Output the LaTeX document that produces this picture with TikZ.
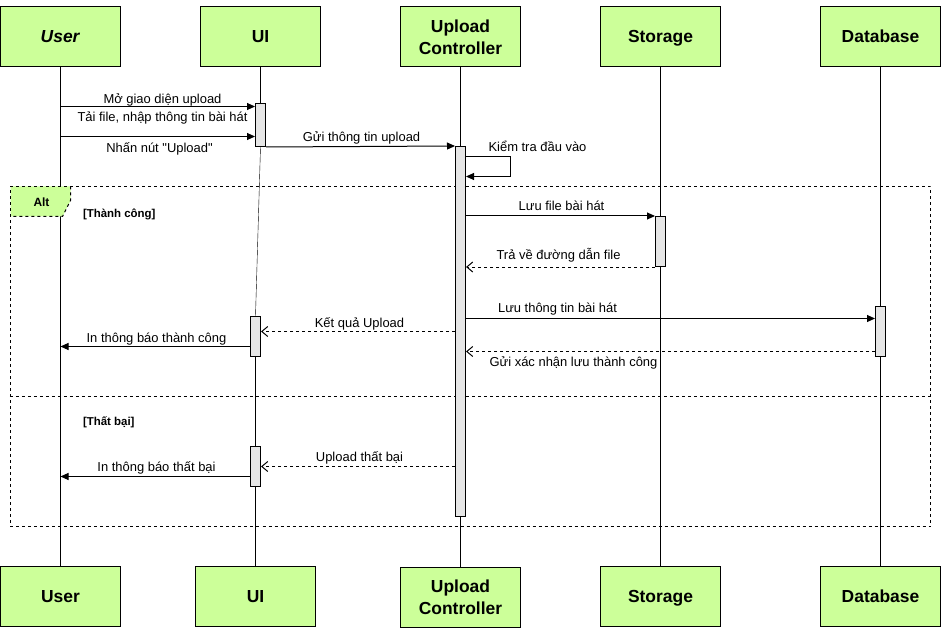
\documentclass[tikz,border=0pt]{standalone}
\usepackage{fontspec}
\setmainfont{Liberation Sans}[Ligatures=TeXOff]
\usetikzlibrary{arrows.meta, backgrounds, positioning}
\definecolor{headgreen}{HTML}{CCFF99}
\definecolor{bargray}{HTML}{E6E6E6}
\tikzset{
    actor/.style={draw, fill=headgreen, minimum width=120bp, minimum height=60bp, inner sep=0pt, align=center, font=\fontsize{17.5}{22}\selectfont\bfseries},
    oneline/.style={text height=12.6bp, text depth=0pt},
    bar/.style={draw, fill=bargray, minimum width=10bp, inner sep=0pt},
    msglabel/.style={font=\fontsize{13}{15}\selectfont, inner sep=0pt, anchor=base},
    guard/.style={font=\fontsize{11.5}{13}\selectfont\bfseries, inner sep=0pt, anchor=base west}
}

\begin{document}
\begin{tikzpicture}[x=1bp, y=-1bp, line width=1bp]
\tikzset{
    msg/.style={-{Triangle[length=8bp,width=7bp]}},
    reply/.style={dash pattern=on 3bp off 3bp, -{Straight Barb[length=6bp,width=10bp]}},
    frame/.style={draw, dash pattern=on 3bp off 3bp, inner sep=0pt}
}
  \useasboundingbox (-0.5,-0.5) rectangle (941.5,633.5);
  % heads
  \node[actor, oneline] (userTop) at (60,36) {\textit{User}};
  \node[actor, oneline] (uiTop) at (260,36) {UI};
  \node[actor] (ctrlTop) at (460,36.5) {Upload\\Controller};
  \node[actor, oneline] (stoTop) at (660,36) {Storage};
  \node[actor, oneline] (dbTop) at (880,36) {Database};
  \node[actor, oneline] (userBot) at (60,596) {User};
  \node[actor, oneline] (uiBot) at (255,596) {UI};
  \node[actor] (ctrlBot) at (460,596.5) {Upload\\Controller};
  \node[actor, oneline] (stoBot) at (660,596) {Storage};
  \node[actor, oneline] (dbBot) at (880,596) {Database};
  % alt frame
  \fill[headgreen] (10,186) -- (70,186) -- (70,200) -- (62,216) -- (10,216) -- cycle;
  \node[frame, minimum width=920bp, minimum height=340bp] (altFrame) at (470,356) {};
  \draw[dash pattern=on 3bp off 3bp] (70,186) -- (70,200) -- (62,216) -- (10,216);
  \draw[dash pattern=on 3bp off 3bp] (altFrame.west |- 0,396) -- (altFrame.east |- 0,396);
  \node[font=\fontsize{12}{14}\selectfont\bfseries, anchor=base, inner sep=0pt] (altLbl) at (41,206) {Alt};
  \node[guard] (gOk) at (82,217) {[Thành công]};
  \node[guard] (gFail) at (82,425) {[Thất bại]};
  % activations
  \node[bar, minimum height=43bp] (uiAct1) at (260,124.5) {};
  \node[bar, minimum height=370bp] (ctrlAct) at (460,331) {};
  \node[bar, minimum height=50bp] (stoAct) at (660,241) {};
  \node[bar, minimum height=50bp] (dbAct) at (880,331) {};
  \node[bar, minimum height=40bp] (uiAct2) at (255,336) {};
  \node[bar, minimum height=40bp] (uiAct3) at (255,466) {};
  \begin{scope}[on background layer]
    \draw (userTop.south) -- (userBot.north);
    \draw (uiTop.south) -- (uiAct1.north);
    \draw (uiAct1.south) -- (uiAct2.north);
    \draw (uiAct2.south) -- (uiAct3.north);
    \draw (uiAct3.south) -- (uiBot.north);
    \draw (ctrlTop.south) -- (ctrlBot.north);
    \draw (stoTop.south) -- (stoBot.north);
    \draw (dbTop.south) -- (dbBot.north);
  \end{scope}
  % messages
  \draw[msg] (userTop |- 0,106) -- (uiAct1.west |- 0,106);
  \draw[msg] (userTop |- 0,136) -- (uiAct1.west |- 0,136);
  \draw[msg] (uiAct1.south east) -- (ctrlAct.north west);
  \draw[msg] (ctrlAct.east |- 0,156) -- ++(44,0) -- ++(0,20) -- (ctrlAct.east |- 0,176);
  \draw[msg] (ctrlAct.east |- stoAct.north) -- (stoAct.north west);
  \draw[reply] (stoAct.south west) -- (ctrlAct.east |- stoAct.south);
  \draw[msg] (ctrlAct.east |- 0,318) -- (dbAct.west |- 0,318);
  \draw[reply] (dbAct.west |- 0,351) -- (ctrlAct.east |- 0,351);
  \draw[reply] (ctrlAct.west |- 0,331) -- (uiAct2.east |- 0,331);
  \draw[msg] (uiAct2.west |- 0,346) -- (userTop |- 0,346);
  \draw[reply] (ctrlAct.west |- 0,466) -- (uiAct3.east |- 0,466);
  \draw[msg] (uiAct3.west |- 0,476) -- (userTop |- 0,476);
  % labels
  \node[msglabel] (lOpen) at (162,103) {Mở giao diện upload};
  \node[msglabel] (lFile) at (162,121) {Tải file, nhập thông tin bài hát};
  \node[msglabel] (lPress) at (159,152.5) {Nhấn nút "Upload"};
  \node[msglabel] (lSend) at (361,141.5) {Gửi thông tin upload};
  \node[msglabel] (lCheck) at (537,151) {Kiểm tra đầu vào};
  \node[msglabel] (lSave) at (561,210.5) {Lưu file bài hát};
  \node[msglabel] (lPath) at (558,259) {Trả về đường dẫn file};
  \node[msglabel] (lInfo) at (557,311.5) {Lưu thông tin bài hát};
  \node[msglabel] (lAck) at (573,366) {Gửi xác nhận lưu thành công};
  \node[msglabel] (lResult) at (359,326.5) {Kết quả Upload};
  \node[msglabel] (lOk) at (156,342) {In thông báo thành công};
  \node[msglabel] (lFailMsg) at (359,461) {Upload thất bại};
  \node[msglabel] (lFailOut) at (156,471) {In thông báo thất bại};
\end{tikzpicture}
\end{document}
